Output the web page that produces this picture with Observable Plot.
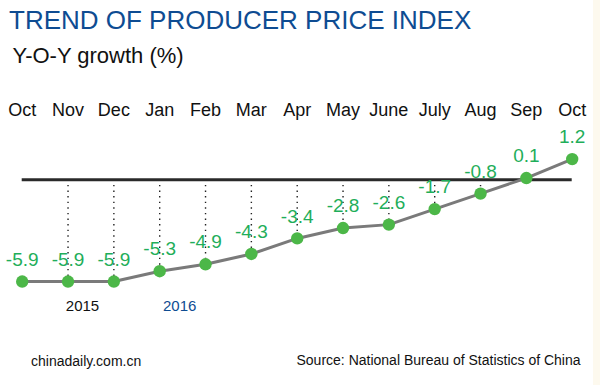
<!DOCTYPE html>
<html>
<head>
<meta charset="utf-8">
<script src="https://cdn.jsdelivr.net/npm/d3@7"></script>
<script src="https://cdn.jsdelivr.net/npm/@observablehq/plot@0.6"></script>
<style>
  html, body { margin: 0; padding: 0; background: #fff; }
  #wrap { position: relative; width: 600px; height: 385px; overflow: hidden; font-family: "Liberation Sans", Arial, sans-serif; }
  .t { position: absolute; white-space: nowrap; line-height: 1; }
  #title { left: 9px; top: 6.5px; font-size: 26px; color: #0e4c92; }
  #subtitle { left: 12.5px; top: 44.7px; font-size: 22px; color: #111; }
  #credit { left: 31px; top: 354px; font-size: 14px; color: #111; }
  #source { left: 296.5px; top: 352.5px; font-size: 14px; color: #111; }
  #strip { position: absolute; right: 0; top: 0; width: 7px; height: 385px; background: #fdf9ee; }
  #chart { position: absolute; left: 0; top: 0; }
</style>
</head>
<body>
<div id="wrap">
  <div id="chart"></div>
  <div id="title" class="t">TREND OF PRODUCER PRICE INDEX</div>
  <div id="subtitle" class="t">Y-O-Y growth (%)</div>
  <div id="credit" class="t">chinadaily.com.cn</div>
  <div id="source" class="t">Source: National Bureau of Statistics of China</div>
  <div id="strip"></div>
</div>
<script>
const months = ["Oct","Nov","Dec","Jan","Feb","Mar","Apr","May","June","July","Aug","Sep","Oct"];
const values = [-5.9,-5.9,-5.9,-5.3,-4.9,-4.3,-3.4,-2.8,-2.6,-1.7,-0.8,0.1,1.2];
const yearLabels = ["2015","2016"];
const yearAnchorIdx = [1, 3];
const yearColors = ["#111111","#0e4c92"];
const guideIdx = [1,2,3,4,5,6,7,8,9,10];

const idx = months.map((m, i) => i);
const data = idx.map(i => ({i, month: months[i], v: values[i]}));
const guides = guideIdx.map(i => data[i]);
const years = yearLabels.map((t, k) => ({t, i: yearAnchorIdx[k], c: yearColors[k]}));
const yDomain = [-7, 2];

const chart = Plot.plot({
  width: 600,
  height: 385,
  marginTop: 120,
  marginBottom: 0,
  marginLeft: 0,
  marginRight: 0,
  style: {background: "transparent", fontFamily: "'Liberation Sans', Arial, sans-serif", overflow: "visible"},
  x: {type: "point", domain: idx, range: [21.7, 571.7], padding: 0, round: false},
  y: {domain: yDomain, range: [300, 144.8], axis: null},
  marks: [
    Plot.axisX({anchor: "top", tickSize: 0, tickPadding: 5, fontSize: 18, fill: "#111", label: null, tickFormat: i => months[i]}),
    Plot.ruleX(guides, {x: "i", y1: 0, y2: "v", stroke: "#222", strokeWidth: 1.4, strokeDasharray: "1.4,4.2"}),
    Plot.ruleY([0], {x1: idx[0], x2: idx[idx.length - 1], stroke: "#2a2a2a", strokeWidth: 3}),
    Plot.line(data, {x: "i", y: "v", stroke: "#7a7a7a", strokeWidth: 3}),
    Plot.dot(data, {x: "i", y: "v", r: 6.2, fill: "#4cb748", stroke: "none"}),
    Plot.text(data, {x: "i", y: "v", text: d => String(d.v), dy: -22, fontSize: 19, fill: "#1fae5a"}),
    Plot.text(years.slice(0, 1), {x: "i", y: () => yDomain[0], text: "t", fill: "c", fontSize: 15, lineAnchor: "top", dx: 14.5}),
    Plot.text(years.slice(1), {x: "i", y: () => yDomain[0], text: "t", fill: "c", fontSize: 15, lineAnchor: "top", dx: 20})
  ]
});
document.getElementById("chart").appendChild(chart);
</script>
</body>
</html>
